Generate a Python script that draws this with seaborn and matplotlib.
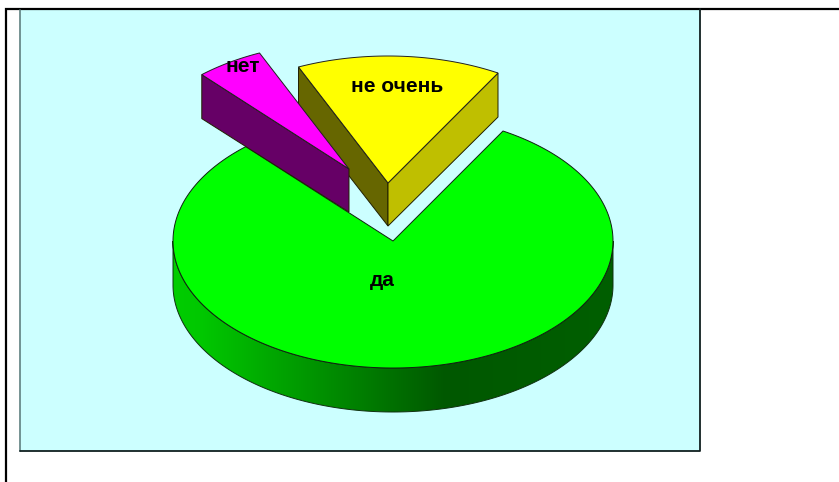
import numpy as np
import matplotlib
matplotlib.use("Agg")
import matplotlib.pyplot as plt
from matplotlib.patches import Polygon, Rectangle
import seaborn as sns

# data, counter-clockwise from the start angle
labels = ["не очень", "нет", "да"]
values = [15, 5, 80]

start_angle = 60
colors = sns.color_palette(["#ffff00", "#ff00ff", "#00ff00"])
# side faces that can be seen: (left, right)
dark_side = {"не очень": ("#666600", "#bfbf00"), "нет": ("#660066", None)}

# layout in pixels
cx, cy = 393, 241
rx, ry = 220, 127
depth = 44
offsets = {"не очень": (-5, -58), "нет": (-44, -72), "да": (0, 0)}
label_pos = {"не очень": (397, 86), "нет": (243, 66), "да": (382, 280)}

sns.set_style("white")
plt.rcParams["font.family"] = ["Liberation Sans", "DejaVu Sans"]

fig = plt.figure(figsize=(8.39, 4.82), dpi=100)
ax = fig.add_axes([0, 0, 1, 1])
ax.set_xlim(0, 839)
ax.set_ylim(482, 0)
ax.autoscale(False)
ax.axis("off")

# page frame and chart background
ax.add_patch(Rectangle((20, 10), 680, 441, fc="#ccffff", ec="none", zorder=0.5))
ax.plot([6, 6, 839], [482, 9, 9], color="black", lw=1.6, solid_joinstyle="miter")
ax.plot([20, 20], [10, 451], color="#5f8080", lw=1.2)
ax.plot([20, 700, 700], [451, 451, 9], color="#102020", lw=1.3)


def arc(a0, a1, ox, oy):
    t = np.radians(np.linspace(a0, a1, 240))
    return np.column_stack([cx + ox + rx * np.cos(t), cy + oy - ry * np.sin(t)])


edges = np.cumsum([0] + values) / sum(values) * 360 + start_angle
slices = {n: (edges[i], edges[i + 1], colors[i]) for i, n in enumerate(labels)}

# green slice: rim first (gradient clipped to its shape), then the top
a0, a1, col = slices["да"]
ox, oy = offsets["да"]
rim = arc(180, 360, ox, oy)
rim_shape = np.vstack([rim, (rim + [0, depth])[::-1]])
x_grad = np.linspace(cx - rx, cx + rx, 440)
# light on the left, dark from about x=445
g_grad = np.interp(x_grad, [173, 200, 445, 613], [205, 200, 88, 95]) / 255
strip = np.zeros((1, len(x_grad), 3))
strip[0, :, 1] = g_grad
rim_patch = Polygon(rim_shape, closed=True, fc="none", ec="#103010", lw=0.7, zorder=1.1)
ax.add_patch(rim_patch)
img = ax.imshow(strip, extent=(cx - rx, cx + rx, cy + ry + depth, cy), aspect="auto", zorder=1)
img.set_clip_path(rim_patch)
top = np.vstack([[cx + ox, cy + oy], arc(a0, a1, ox, oy)])
ax.add_patch(Polygon(top, closed=True, fc=col, ec="#102010", lw=0.7, zorder=1.2))

# the two pulled out slices
for name in ["не очень", "нет"]:
    a0, a1, col = slices[name]
    ox, oy = offsets[name]
    apex = np.array([cx + ox, cy + oy])
    pts = arc(a0, a1, ox, oy)
    left_col, right_col = dark_side[name]
    for end, c in [(pts[-1], left_col), (pts[0], right_col)]:
        if c is None:
            continue
        face = [apex, end, end + [0, depth], apex + [0, depth - 1]]
        ax.add_patch(Polygon(face, closed=True, fc=c, ec="#202000", lw=0.7, zorder=2))
    ax.add_patch(Polygon(np.vstack([apex, pts]), closed=True, fc=col, ec="#202020", lw=0.7, zorder=2))

for name in labels:
    x, y = label_pos[name]
    ax.text(x, y, name, ha="center", va="center", fontsize=15, fontweight="bold", color="black", zorder=3)

fig.savefig("out.png", dpi=100)
